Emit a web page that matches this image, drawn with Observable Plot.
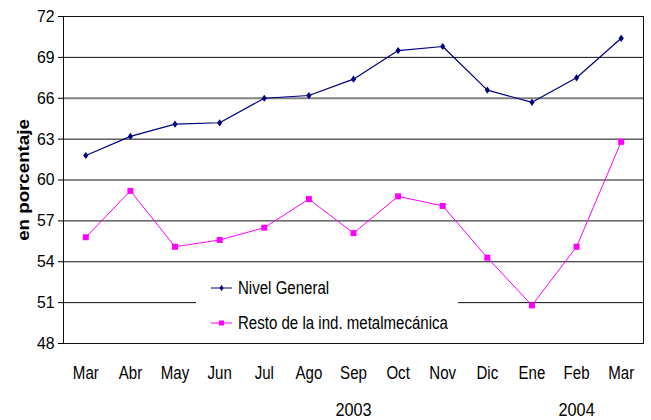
<!DOCTYPE html>
<html>
<head>
<meta charset="utf-8">
<script src="https://cdn.jsdelivr.net/npm/d3@7"></script>
<script src="https://cdn.jsdelivr.net/npm/@observablehq/plot@0.6"></script>
<style>
  body { margin: 0; background: #fff; }
  #wrap { position: relative; width: 651px; height: 420px; font-family: "Liberation Sans", Arial, sans-serif; }
  #wrap svg { display: block; }
  #legend { position: absolute; left: 196px; top: 268px; width: 262px; height: 70px; background: #fff;
            font-size: 17.5px; color: #000; }
  #legend .row { position: absolute; left: 15px; height: 20px; display: flex; align-items: center; white-space: nowrap; }
  #legend svg { margin-right: 5px; }
  #legend span { display: inline-block; transform: scaleX(0.86); transform-origin: 0 50%; }
</style>
</head>
<body>
<div id="wrap"></div>
<script>
// ---- data ----
const months = ["Mar","Abr","May","Jun","Jul","Ago","Sep","Oct","Nov","Dic","Ene","Feb","Mar"];
const nivelGeneral = [61.8, 63.2, 64.1, 64.2, 66.0, 66.2, 67.4, 69.5, 69.8, 66.6, 65.7, 67.5, 70.4];
const restoMetalmecanica = [55.8, 59.2, 55.1, 55.6, 56.5, 58.6, 56.1, 58.8, 58.1, 54.3, 50.8, 55.1, 62.8];
const yTicks = [48, 51, 54, 57, 60, 63, 66, 69, 72];
const years = ["2003", "2004"];
const yearAtIndex = [6, 11];
const seriesNames = ["Nivel General", "Resto de la ind. metalmecánica"];
const seriesColors = ["#000080", "#FF00FF"];
const yTitle = "en porcentaje";

// ---- build table ----
const idx = months.map((m, i) => i);
const rowsNivel = idx.map(i => ({i, month: months[i], v: nivelGeneral[i]}));
const rowsResto = idx.map(i => ({i, month: months[i], v: restoMetalmecanica[i]}));

const diamond = { draw(ctx) { ctx.moveTo(0, -3.6); ctx.lineTo(2.6, 0); ctx.lineTo(0, 3.6); ctx.lineTo(-2.6, 0); ctx.closePath(); } };
const square = { draw(ctx) { ctx.rect(-3, -3, 6, 6); } };

const chart = Plot.plot({
  width: 651, height: 420,
  marginLeft: 63, marginRight: 8, marginTop: 16, marginBottom: 77,
  style: { fontFamily: '"Liberation Sans", Arial, sans-serif', fontSize: "17.5px", color: "#000", background: "#fff" },
  x: { type: "linear", domain: [-0.5, 12.5] },
  y: { domain: [48, 72] },
  marks: [
    Plot.ruleY(yTicks.filter(t => t > 48 && t < 72 && t !== 66), { stroke: "#111", strokeWidth: 1 }),
    Plot.ruleY([66], { stroke: "#808080", strokeWidth: 2 }),
    Plot.frame({ stroke: "#111" }),
    Plot.axisY({ ticks: yTicks, tickSize: 5, tickPadding: 4, fontSize: 17,
      label: yTitle, labelAnchor: "center", labelArrow: "none", labelOffset: 46 }),
    Plot.axisX({ ticks: idx, tickFormat: i => months[i], tickSize: 0, tickPadding: 23, label: null, fontSize: 17.5 }),
    Plot.axisX(yearAtIndex, { tickFormat: d => years[yearAtIndex.indexOf(d)], tickSize: 0, tickPadding: 60, label: null, fontSize: 17.5 }),
    Plot.line(rowsNivel, { x: "i", y: "v", stroke: seriesColors[0], strokeWidth: 1.2 }),
    Plot.line(rowsResto, { x: "i", y: "v", stroke: seriesColors[1], strokeWidth: 1 }),
    Plot.dot(rowsNivel, { x: "i", y: "v", symbol: diamond, fill: seriesColors[0], stroke: "none" }),
    Plot.dot(rowsResto, { x: "i", y: "v", symbol: square, fill: seriesColors[1], stroke: "none" })
  ]
});

const wrap = document.getElementById("wrap");
wrap.appendChild(chart);

// reproduce the narrow, tall lettering of the original picture
d3.select(chart).selectAll("text").each(function () {
  const t = d3.select(this);
  if (this.textContent === yTitle) {
    t.attr("font-weight", "bold").attr("font-size", 16);
    const L = this.getComputedTextLength();
    t.attr("textLength", L * 1.17).attr("lengthAdjust", "spacingAndGlyphs");
  } else {
    const isNum = /^\d+$/.test(this.textContent);
    const L = this.getComputedTextLength();
    t.attr("textLength", L * (isNum ? 0.93 : 0.86)).attr("lengthAdjust", "spacingAndGlyphs");
  }
});

// ---- legend ----
const legend = d3.select(wrap).append("div").attr("id", "legend");
const markers = [
  s => s.append("path").attr("d", "M10.5,7 L12.6,10 L10.5,13 L8.4,10 Z").attr("fill", seriesColors[0]),
  s => s.append("rect").attr("x", 8).attr("y", 7.5).attr("width", 5).attr("height", 5).attr("fill", seriesColors[1])
];
seriesNames.forEach((name, k) => {
  const row = legend.append("div").attr("class", "row").style("top", (k === 0 ? 10 : 45) + "px");
  const svg = row.append("svg").attr("width", 22).attr("height", 20);
  svg.append("line").attr("x1", 0).attr("x2", 21).attr("y1", 10).attr("y2", 10).attr("stroke", seriesColors[k]).attr("stroke-width", 1);
  markers[k](svg);
  row.append("span").text(name);
});
</script>
</body>
</html>
